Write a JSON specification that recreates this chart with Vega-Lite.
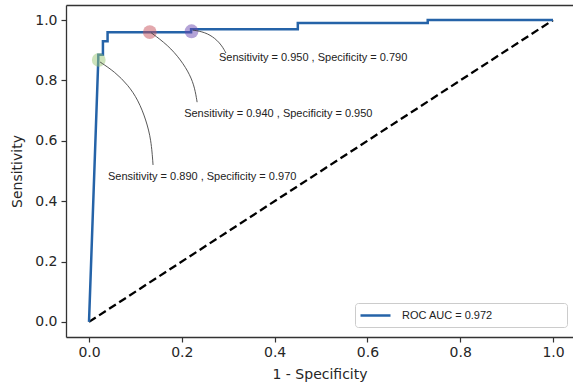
{
  "$schema": "https://vega.github.io/schema/vega-lite/v6.json",
  "width": 507,
  "height": 332,
  "autosize": {"type": "none"},
  "padding": {"left": 66, "top": 5, "right": 0, "bottom": 48},
  "background": "white",
  "datasets": {
    "roc": [
      {"i": 0, "x": 0.0, "y": 0.0, "series": "ROC AUC = 0.972"},
      {"i": 1, "x": 0.02, "y": 0.87, "series": "ROC AUC = 0.972"},
      {"i": 2, "x": 0.02, "y": 0.885, "series": "ROC AUC = 0.972"},
      {"i": 3, "x": 0.03, "y": 0.885, "series": "ROC AUC = 0.972"},
      {"i": 4, "x": 0.03, "y": 0.93, "series": "ROC AUC = 0.972"},
      {"i": 5, "x": 0.04, "y": 0.93, "series": "ROC AUC = 0.972"},
      {"i": 6, "x": 0.04, "y": 0.96, "series": "ROC AUC = 0.972"},
      {"i": 7, "x": 0.22, "y": 0.96, "series": "ROC AUC = 0.972"},
      {"i": 8, "x": 0.22, "y": 0.97, "series": "ROC AUC = 0.972"},
      {"i": 9, "x": 0.45, "y": 0.97, "series": "ROC AUC = 0.972"},
      {"i": 10, "x": 0.45, "y": 0.99, "series": "ROC AUC = 0.972"},
      {"i": 11, "x": 0.73, "y": 0.99, "series": "ROC AUC = 0.972"},
      {"i": 12, "x": 0.73, "y": 1.0, "series": "ROC AUC = 0.972"},
      {"i": 13, "x": 1.0, "y": 1.0, "series": "ROC AUC = 0.972"}
    ],
    "diag": [
      {"x": 0, "y": 0},
      {"x": 1, "y": 1}
    ],
    "marks": [
      {"p": "A", "x": 0.021, "y": 0.868},
      {"p": "B", "x": 0.131, "y": 0.96},
      {"p": "C", "x": 0.221, "y": 0.963}
    ],
    "curves": [
      {"k": "C", "i": 0, "x": 0.224, "y": 0.967},
      {"k": "C", "i": 1, "x": 0.25, "y": 0.96},
      {"k": "C", "i": 2, "x": 0.272, "y": 0.94},
      {"k": "C", "i": 3, "x": 0.287, "y": 0.914},
      {"k": "C", "i": 4, "x": 0.295, "y": 0.891},
      {"k": "B", "i": 0, "x": 0.134, "y": 0.958},
      {"k": "B", "i": 1, "x": 0.17, "y": 0.917},
      {"k": "B", "i": 2, "x": 0.198, "y": 0.868},
      {"k": "B", "i": 3, "x": 0.218, "y": 0.818},
      {"k": "B", "i": 4, "x": 0.228, "y": 0.775},
      {"k": "B", "i": 5, "x": 0.233, "y": 0.728},
      {"k": "A", "i": 0, "x": 0.024, "y": 0.861},
      {"k": "A", "i": 1, "x": 0.056, "y": 0.828},
      {"k": "A", "i": 2, "x": 0.084, "y": 0.785},
      {"k": "A", "i": 3, "x": 0.106, "y": 0.735},
      {"k": "A", "i": 4, "x": 0.123, "y": 0.669},
      {"k": "A", "i": 5, "x": 0.134, "y": 0.603},
      {"k": "A", "i": 6, "x": 0.138, "y": 0.52}
    ],
    "labels": [
      {"x": 0.28, "y": 0.874, "text": "Sensitivity = 0.950 , Specificity = 0.790"},
      {"x": 0.205, "y": 0.689, "text": "Sensitivity = 0.940 , Specificity = 0.950"},
      {"x": 0.041, "y": 0.48, "text": "Sensitivity = 0.890 , Specificity = 0.970"}
    ]
  },
  "resolve": {"axis": {"x": "independent"}},
  "layer": [
    {
      "data": {"name": "diag"},
      "mark": {"type": "line", "color": "black", "strokeWidth": 2.3, "strokeDash": [8, 4]},
      "encoding": {
        "x": {"field": "x", "type": "quantitative", "scale": {"domain": [-0.0496, 1.0431], "nice": false, "zero": false},
              "axis": {"orient": "top", "labels": false, "ticks": false, "title": null, "domain": true}},
        "y": {"field": "y", "type": "quantitative", "title": "Sensitivity", "scale": {"domain": [-0.05, 1.05], "nice": false, "zero": false},
              "axis": {"values": [0, 0.2, 0.4, 0.6, 0.8, 1.0], "format": ".1f", "labelPadding": 4, "titlePadding": 10}}
      }
    },
    {
      "data": {"name": "roc"},
      "mark": {"type": "line", "strokeWidth": 2.5},
      "encoding": {
        "x": {"field": "x", "type": "quantitative",
              "axis": {"orient": "bottom", "values": [0, 0.2, 0.4, 0.6, 0.8, 1.0], "format": ".1f", "title": "1 - Specificity", "labelPadding": 3, "titlePadding": 8}},
        "y": {"field": "y", "type": "quantitative", "title": "Sensitivity",
              "axis": {"values": [0, 0.2, 0.4, 0.6, 0.8, 1.0], "format": ".1f", "labelPadding": 4, "titlePadding": 10}},
        "order": {"field": "i", "type": "quantitative"},
        "color": {
          "field": "series", "type": "nominal",
          "scale": {"range": ["#2563a8"]},
          "legend": {
            "orient": "none", "legendX": 289, "legendY": 298, "title": null,
            "symbolType": "M-3,0H3", "symbolSize": 100, "symbolStrokeWidth": 2.5, "symbolOffset": 8,
            "labelFont": "Liberation Sans", "labelFontSize": 11, "labelColor": "#222222",
            "labelOffset": 20, "labelLimit": 0, "padding": 6, "strokeColor": "#cccccc", "fillColor": "white",
            "cornerRadius": 3,
            "labelExpr": "datum.label + '\u00a0\u00a0\u00a0\u00a0\u00a0\u00a0\u00a0\u00a0\u00a0\u00a0\u00a0\u00a0\u00a0\u00a0\u00a0\u00a0\u00a0\u00a0\u00a0\u00a0\u00a0\u00a0\u200b'"
          }
        }
      }
    },
    {
      "data": {"name": "marks"},
      "mark": {"type": "point", "filled": true, "size": 190, "opacity": 0.5, "strokeWidth": 0},
      "encoding": {
        "x": {"field": "x", "type": "quantitative", "axis": null},
        "y": {"field": "y", "type": "quantitative", "title": "Sensitivity",
              "axis": {"values": [0, 0.2, 0.4, 0.6, 0.8, 1.0], "format": ".1f", "labelPadding": 4, "titlePadding": 10}},
        "fill": {"field": "p", "type": "nominal", "legend": null,
                 "scale": {"domain": ["A", "B", "C"], "range": ["#9bc877", "#c8525b", "#6a48b0"]}}
      }
    },
    {
      "data": {"name": "curves"},
      "mark": {"type": "line", "interpolate": "basis", "color": "#444444", "strokeWidth": 0.9},
      "encoding": {
        "x": {"field": "x", "type": "quantitative", "axis": null},
        "y": {"field": "y", "type": "quantitative", "title": "Sensitivity",
              "axis": {"values": [0, 0.2, 0.4, 0.6, 0.8, 1.0], "format": ".1f", "labelPadding": 4, "titlePadding": 10}},
        "detail": {"field": "k", "type": "nominal"},
        "order": {"field": "i", "type": "quantitative"}
      }
    },
    {
      "data": {"name": "labels"},
      "mark": {"type": "text", "align": "left", "baseline": "middle", "font": "Liberation Sans", "fontSize": 11, "color": "#222222"},
      "encoding": {
        "x": {"field": "x", "type": "quantitative", "axis": null},
        "y": {"field": "y", "type": "quantitative", "title": "Sensitivity",
              "axis": {"values": [0, 0.2, 0.4, 0.6, 0.8, 1.0], "format": ".1f", "labelPadding": 4, "titlePadding": 10}},
        "text": {"field": "text", "type": "nominal"}
      }
    }
  ],
  "config": {
    "view": {"stroke": null},
    "axis": {
      "labelFont": "DejaVu Sans", "labelFontSize": 14, "labelColor": "#262626",
      "titleFont": "DejaVu Sans", "titleFontSize": 14, "titleFontWeight": "normal", "titleColor": "#262626",
      "domainColor": "#333333", "domainWidth": 1.3, "tickColor": "#333333", "tickWidth": 1.2, "tickSize": 5,
      "grid": false
    }
  }
}
